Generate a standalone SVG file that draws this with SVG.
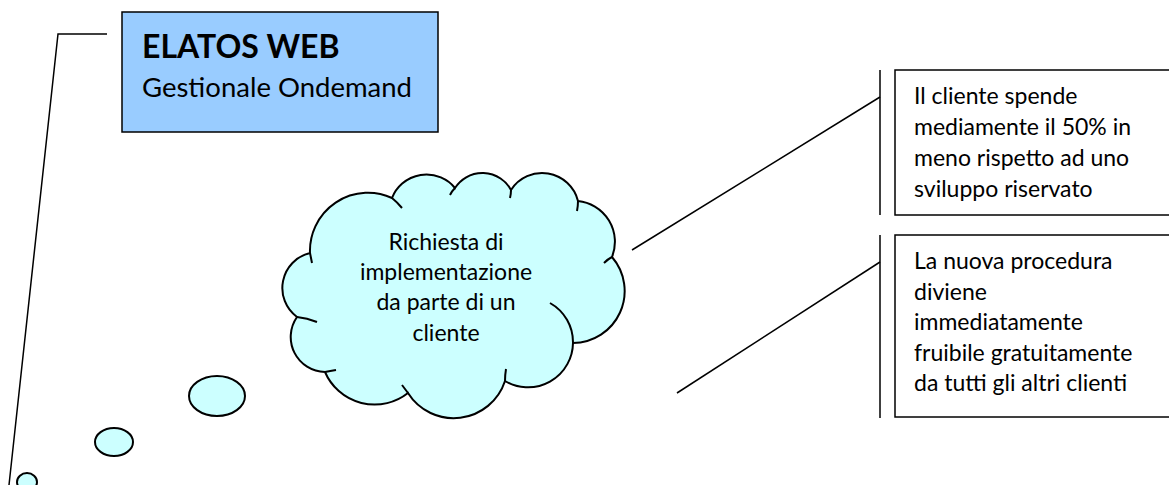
<svg xmlns="http://www.w3.org/2000/svg" width="1169" height="485" viewBox="0 0 1169 485">
<style>
text{font-family:Lato,"Liberation Sans",sans-serif;fill:#000}
.t{font-size:23px}
.ln{fill:none;stroke:#000;stroke-width:1.5}
.bub{fill:#CCFFFF;stroke:#000;stroke-width:2}
.box{fill:#fff;stroke:#000;stroke-width:1.5}
</style>
<rect width="1169" height="485" fill="#fff"/>
<g id="connectors">
<polyline class="ln" points="107,34 58,34 9,485"/>
<line class="ln" x1="632" y1="250" x2="880" y2="97"/>
<line class="ln" x1="677" y1="393" x2="880" y2="262"/>
<line class="ln" x1="880" y1="70" x2="880" y2="215"/>
<line class="ln" x1="880" y1="235" x2="880" y2="418"/>
</g>
<g id="title">
<rect x="122" y="12" width="316" height="120" fill="#99CCFF" stroke="#000" stroke-width="1.5"/>
<text x="142" y="58" font-size="32" font-weight="bold">ELATOS WEB</text>
<text x="142" y="97" font-size="27.5">Gestionale Ondemand</text>
</g>
<g id="bubbles">
<ellipse class="bub" cx="217" cy="396" rx="28" ry="20"/>
<ellipse class="bub" cx="114" cy="442" rx="19" ry="14"/>
<ellipse class="bub" cx="27" cy="482" rx="10" ry="9"/>
</g>
<g id="cloud">
<path class="bub" d="M310,253 A58,58 0 0 1 392,198 A37,37 0 0 1 455,188 A32.5,32.5 0 0 1 511,190 A37,37 0 0 1 578,201 A41,41 0 0 1 612,257 A52,52 0 0 1 573,343 A45,45 0 0 1 505,381 A54,54 0 0 1 408,393 A54,54 0 0 1 325,372 A35,35 0 0 1 297,317 A36,36 0 0 1 310,253 Z"/>
<path fill="none" stroke="#000" stroke-width="2" d="M550,303 A45,45 0 0 1 573,343 M310,253 Q311,258 312,263 M392,198 Q397,202 402,208 M455,188 Q452,191 450,195 M511,190 Q511,194 510,198 M578,201 Q578,206 577,211 M612,257 Q608,259 604,263 M505,381 Q505,375 506,369 M408,393 Q405,389 402,385 M325,372 Q330,371 336,370 M297,317 Q307,318 317,322"/>
<text class="t" text-anchor="middle" x="446" y="250">Richiesta di</text>
<text class="t" text-anchor="middle" x="446" y="280">implementazione</text>
<text class="t" text-anchor="middle" x="446" y="310">da parte di un</text>
<text class="t" text-anchor="middle" x="446" y="341">cliente</text>
</g>
<g id="box1">
<rect class="box" x="895" y="70" width="290" height="145"/>
<text class="t" x="914" y="104">Il cliente spende</text>
<text class="t" x="914" y="135">mediamente il 50% in</text>
<text class="t" x="914" y="166">meno rispetto ad uno</text>
<text class="t" x="914" y="197">sviluppo riservato</text>
</g>
<g id="box2">
<rect class="box" x="895" y="235" width="290" height="182"/>
<text class="t" x="914" y="269">La nuova procedura</text>
<text class="t" x="914" y="300">diviene</text>
<text class="t" x="914" y="330">immediatamente</text>
<text class="t" x="914" y="361">fruibile gratuitamente</text>
<text class="t" x="914" y="391">da tutti gli altri clienti</text>
</g>
</svg>
